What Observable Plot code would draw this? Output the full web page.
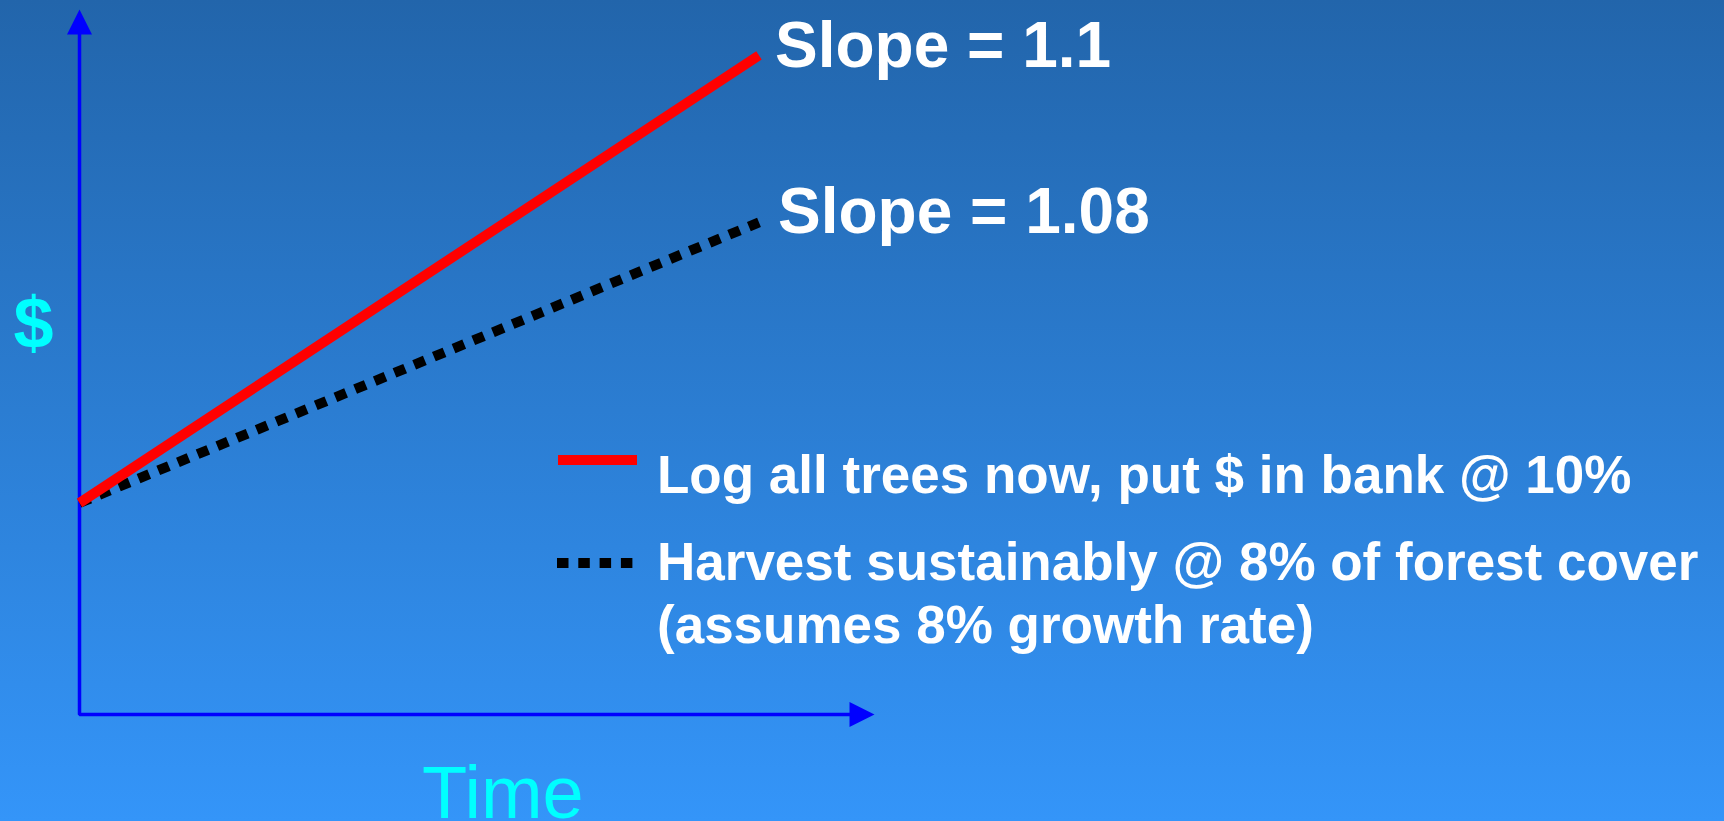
<!DOCTYPE html>
<html><head><meta charset="utf-8">
<script src="https://cdn.jsdelivr.net/npm/d3@7"></script>
<script src="https://cdn.jsdelivr.net/npm/@observablehq/plot@0.6"></script>
<style>
html,body{margin:0;padding:0;width:1724px;height:821px;overflow:hidden;
background:linear-gradient(to bottom,#2265AB 0%,#3495F9 100%);}
svg{display:block}
</style></head><body><div id="chart"></div>
<script>
// ---- data ----
const times = [0, 10];
const logAllValues = [30, 93.5];
const harvestValues = [30, 69.8];
const seriesNames = ["Log all trees now, put $ in bank @ 10%", "Harvest sustainably @ 8% of forest cover", "(assumes 8% growth rate)"];
const slopeLabels = ["Slope = 1.1", "Slope = 1.08"];
const axisLabels = ["Time", "$"];
const timeMax = 11.7, valueMax = 100;

const FONT = "'Liberation Sans', Arial, Helvetica, sans-serif";
const RED = "#FF0000", BLACK = "#000000", AXIS = "#0000FF", CYAN = "#00FFFF";
const DASH = "11.5,9.8";

const arrowHead = {
  draw(ctx) { ctx.moveTo(0, 0); ctx.lineTo(12.5, 25); ctx.lineTo(-12.5, 25); ctx.closePath(); }
};

const idx = {length: times.length};
const redEnd = [{t: times[1], v: logAllValues[1], label: slopeLabels[0]}];
const blackEnd = [{t: times[1], v: harvestValues[1], label: slopeLabels[1]}];
// axis polyline: up the value axis to its arrow, down to origin, along the time axis to its arrow
const axisPath = [
  {t: 0, v: valueMax - 2},
  {t: 0, v: 0},
  {t: timeMax - 0.2, v: 0}
];

const plot = Plot.plot({
  width: 1724, height: 821,
  marginLeft: 79, marginRight: 850, marginTop: 9, marginBottom: 107,
  x: {domain: [0, timeMax], axis: null},
  y: {domain: [0, valueMax], axis: null},
  style: {background: "transparent", overflow: "visible", fontFamily: FONT},
  marks: [
    Plot.line(axisPath, {x: "t", y: "v", stroke: AXIS, strokeWidth: 3.5, strokeLinecap: "butt", strokeLinejoin: "miter"}),
    Plot.dot([0], {x: 0, y: valueMax, symbol: arrowHead, fill: AXIS, stroke: "none"}),
    Plot.dot([0], {x: timeMax, y: 0, symbol: arrowHead, fill: AXIS, stroke: "none", rotate: 90}),
    Plot.line(idx, {x: times, y: harvestValues, stroke: BLACK, strokeWidth: 10, strokeDasharray: DASH, strokeLinecap: "butt"}),
    Plot.line(idx, {x: times, y: logAllValues, stroke: RED, strokeWidth: 10, strokeLinecap: "butt"}),
    Plot.text(redEnd, {x: "t", y: "v", text: "label", textAnchor: "start", lineAnchor: "bottom", dx: 16, dy: 12,
      fill: "white", fontSize: 64, fontWeight: "bold"}),
    Plot.text(blackEnd, {x: "t", y: "v", text: "label", textAnchor: "start", lineAnchor: "bottom", dx: 19, dy: 11,
      fill: "white", fontSize: 64, fontWeight: "bold"}),
    Plot.text([axisLabels[1]], {frameAnchor: "left", text: d => d, textAnchor: "start", lineAnchor: "bottom",
      dx: -66, dy: -14.5, fill: CYAN, fontSize: 72, fontWeight: "bold"}),
    Plot.text([axisLabels[0]], {frameAnchor: "bottom", text: d => d, textAnchor: "start", lineAnchor: "bottom",
      dx: -55, dy: 103, fill: CYAN, fontSize: 74, fontWeight: "normal"})
  ]
});

// legend
const svg = d3.select(plot);
const lg = svg.append("g").attr("font-family", FONT).attr("font-weight", "bold").attr("font-size", 53)
  .attr("fill", "white").attr("text-anchor", "start");
lg.append("line").attr("x1", 558).attr("x2", 637).attr("y1", 460).attr("y2", 460)
  .attr("stroke", RED).attr("stroke-width", 10);
lg.append("line").attr("x1", 557).attr("x2", 633).attr("y1", 563).attr("y2", 563)
  .attr("stroke", BLACK).attr("stroke-width", 10).attr("stroke-dasharray", DASH);
const baselines = [493, 580, 643];
seriesNames.forEach((s, i) => lg.append("text").attr("x", 657).attr("y", baselines[i]).text(s));

document.getElementById("chart").appendChild(plot);
</script></body></html>
